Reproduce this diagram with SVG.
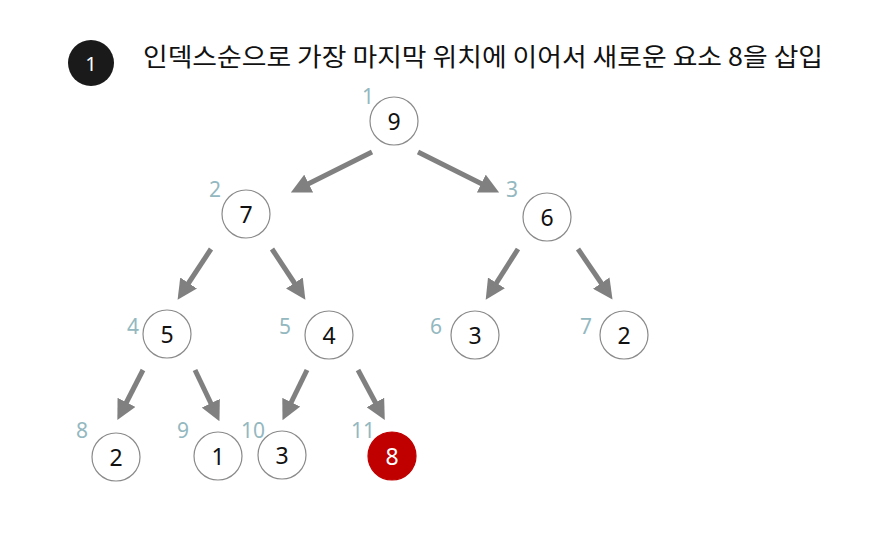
<svg xmlns="http://www.w3.org/2000/svg" width="883" height="535" viewBox="0 0 883 535">
<style>
.node circle{fill:#fff;stroke:#8a8a8a;stroke-width:1.2}
.node text{font-family:"Noto Sans","Noto Sans CJK KR",sans-serif;font-size:23px;fill:#111;text-anchor:middle;dominant-baseline:central}
.idx{font-family:"Noto Sans",sans-serif;font-size:21px;fill:#93b8bf}
.edge{stroke:#808080;stroke-width:5;fill:none;marker-end:url(#ah)}
.title{font-family:"Noto Sans CJK KR","Noto Sans",sans-serif;font-size:25px;fill:#111}
</style>
<defs>
<marker id="ah" viewBox="0 0 10 10" refX="6" refY="5" markerWidth="4" markerHeight="4" orient="auto" markerUnits="strokeWidth">
<path d="M0,0 L10,5 L0,10 Z" fill="#808080"/>
</marker>
</defs>
<rect width="883" height="535" fill="#fff"/>
<g id="title">
<circle cx="91" cy="63" r="23" fill="#1a1a1a"/>
<text x="91" y="63" font-family="Noto Sans,sans-serif" font-size="20" fill="#fff" text-anchor="middle" dominant-baseline="central">1</text>
<text class="title" x="143" y="66" textLength="680" lengthAdjust="spacingAndGlyphs">인덱스순으로 가장 마지막 위치에 이어서 새로운 요소 8을 삽입</text>
</g>
<g id="connectors">
<line class="edge" x1="372" y1="152" x2="298" y2="189"/>
<line class="edge" x1="418" y1="152" x2="492" y2="189"/>
<line class="edge" x1="211" y1="249" x2="182" y2="293"/>
<line class="edge" x1="272" y1="249" x2="301" y2="293"/>
<line class="edge" x1="518" y1="249" x2="490" y2="293"/>
<line class="edge" x1="578" y1="249" x2="608" y2="293"/>
<line class="edge" x1="143" y1="370" x2="121" y2="413"/>
<line class="edge" x1="195" y1="370" x2="216" y2="414"/>
<line class="edge" x1="307" y1="370" x2="286" y2="413"/>
<line class="edge" x1="358" y1="370" x2="381" y2="413"/>
</g>
<g id="n1" class="node"><circle cx="394" cy="121" r="24"/><text x="394" y="121">9</text></g>
<g id="n2" class="node"><circle cx="246" cy="214" r="24"/><text x="246" y="214">7</text></g>
<g id="n3" class="node"><circle cx="547" cy="217" r="24"/><text x="547" y="217">6</text></g>
<g id="n4" class="node"><circle cx="167" cy="334" r="24"/><text x="167" y="334">5</text></g>
<g id="n5" class="node"><circle cx="329" cy="335" r="24"/><text x="329" y="335">4</text></g>
<g id="n6" class="node"><circle cx="475" cy="335" r="24"/><text x="475" y="335">3</text></g>
<g id="n7" class="node"><circle cx="624" cy="335" r="24"/><text x="624" y="335">2</text></g>
<g id="n8" class="node"><circle cx="116" cy="457" r="24"/><text x="116" y="457">2</text></g>
<g id="n9" class="node"><circle cx="218" cy="456" r="24"/><text x="218" y="456">1</text></g>
<g id="n10" class="node"><circle cx="282" cy="455" r="24"/><text x="282" y="455">3</text></g>
<g id="n11" class="node"><circle cx="392" cy="456" r="24" style="fill:#c00000;stroke:#c00000"/><text x="392" y="456" style="fill:#fff">8</text></g>
<g id="indices">
<text class="idx" x="362" y="104">1</text>
<text class="idx" x="209" y="197">2</text>
<text class="idx" x="506" y="197">3</text>
<text class="idx" x="127" y="334">4</text>
<text class="idx" x="279" y="334">5</text>
<text class="idx" x="430" y="334">6</text>
<text class="idx" x="580" y="334">7</text>
<text class="idx" x="76" y="438">8</text>
<text class="idx" x="177" y="438">9</text>
<text class="idx" x="241" y="438">10</text>
<text class="idx" x="351" y="438">11</text>
</g>
</svg>
